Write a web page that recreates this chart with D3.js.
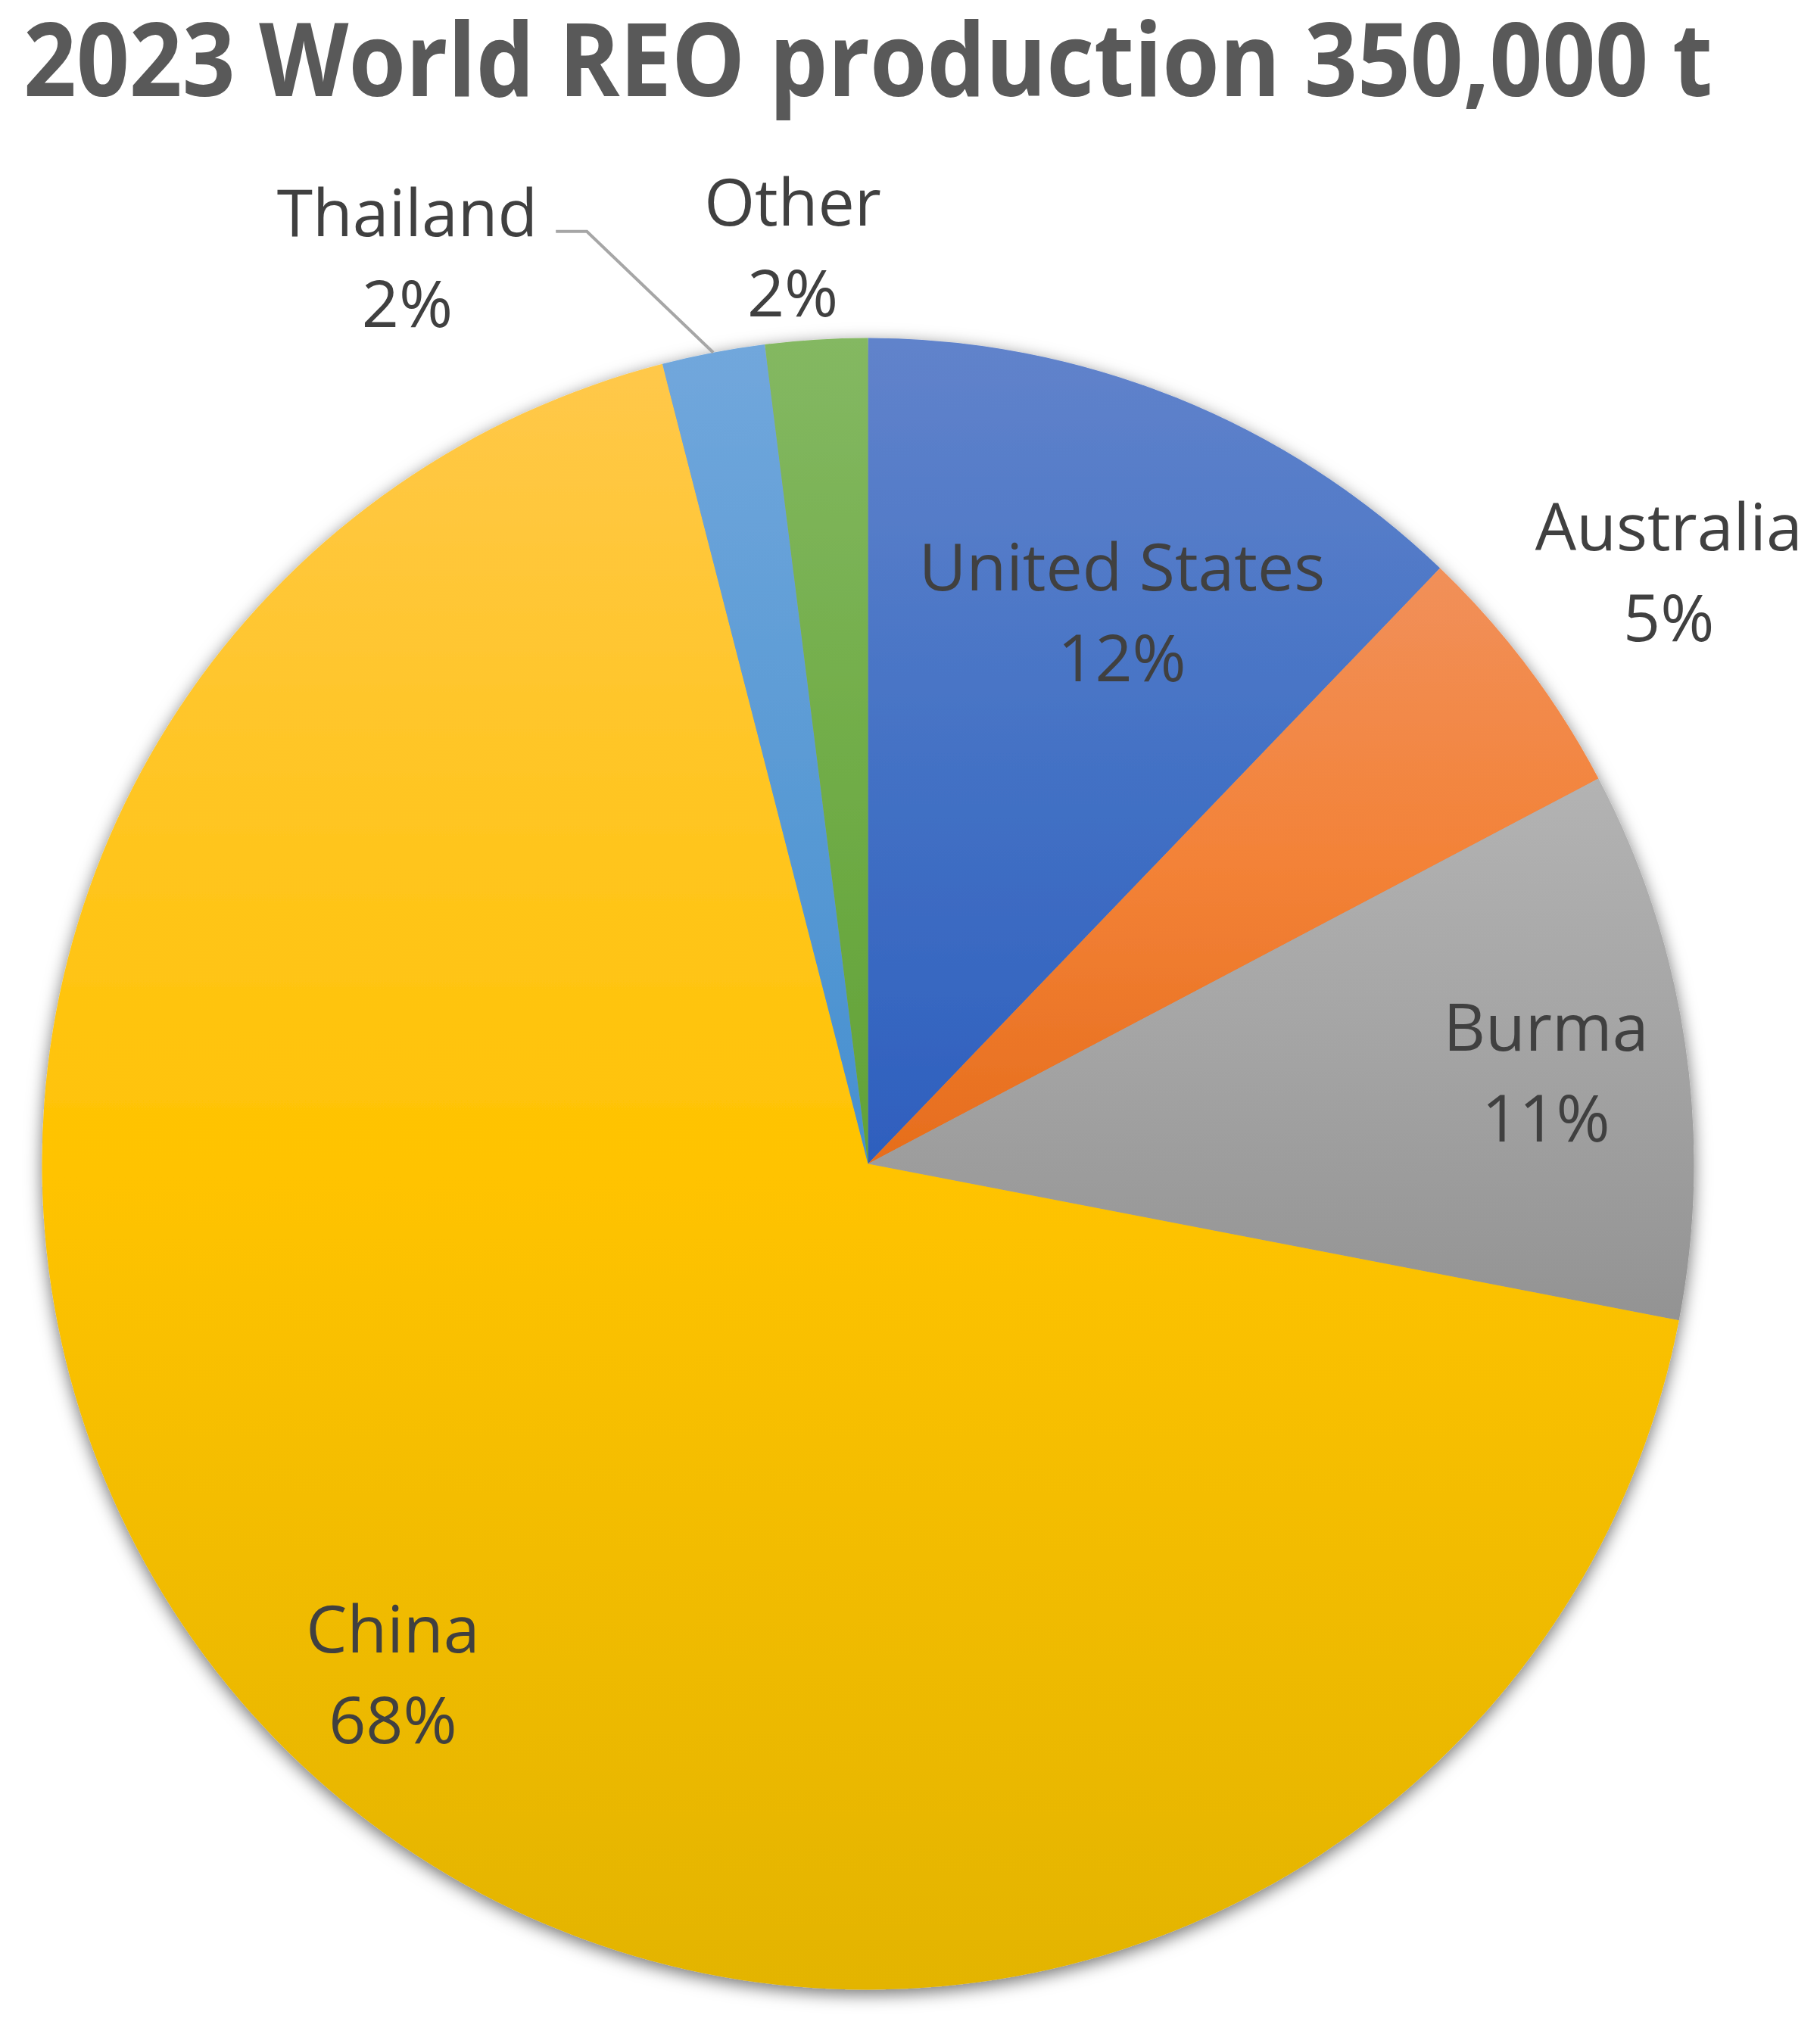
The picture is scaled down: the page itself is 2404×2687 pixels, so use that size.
<!DOCTYPE html>
<html><head><meta charset="utf-8">
<script src="https://cdn.jsdelivr.net/npm/d3@7"></script>
<style>html,body{margin:0;padding:0;background:#fff;} svg{display:block;}</style>
</head><body>
<script>
// ---- data (USGS 2023 rare-earth oxide mine production, tonnes) ----
const categories = ["United States", "Australia", "Burma", "China", "Thailand", "Other"];
const production = [43000, 18000, 38000, 240000, 7100, 7040];
const titleText = "2023 World REO production 350,000 t";

// ---- styles ----
const topColors    = ["#6183CB", "#F1905A", "#B3B3B3", "#FFC84A", "#71A7DC", "#84B862"];
const midColors    = ["#4472C5", "#F38237", "#A4A4A4", "#FFC300", "#5B9BD5", "#71AD48"];
const bottomColors = ["#2E5FBE", "#E66D1C", "#939393", "#E3B400", "#4790D0", "#62A238"];
const labelShiftDeg = [3.77, 1.63, 2.71, -1.58, -16.77, -1.23];
const labelRadius   = [774, 1297, 900, 944, 1315, 1184];
const hasLeader     = [false, false, false, false, true, false];

const W = 2404, H = 2687, cx = 1146.5, cy = 1537.5, R = 1091;
const textColor = "#404040";
const fontFam = "'Open Sans', 'Noto Sans', sans-serif";

const data = categories.map((c, i) => ({name: c, value: production[i], i}));
const total = d3.sum(production);
const pct = d3.format(".0%");

const svg = d3.select("body").append("svg").attr("width", W).attr("height", H);
const defs = svg.append("defs");

const f = defs.append("filter").attr("id", "shadow")
  .attr("x", "-10%").attr("y", "-10%").attr("width", "120%").attr("height", "120%");
f.append("feDropShadow").attr("dx", 0).attr("dy", 6).attr("stdDeviation", 11)
  .attr("flood-color", "#000").attr("flood-opacity", 0.55);

data.forEach(d => {
  const g = defs.append("linearGradient").attr("id", "grad" + d.i)
    .attr("x1", 0).attr("y1", 0).attr("x2", 0).attr("y2", 1);
  g.append("stop").attr("offset", "0%").attr("stop-color", topColors[d.i]);
  g.append("stop").attr("offset", "50%").attr("stop-color", midColors[d.i]);
  g.append("stop").attr("offset", "100%").attr("stop-color", bottomColors[d.i]);
});

// title
svg.append("text")
  .attr("x", 31).attr("y", 127)
  .attr("font-family", fontFam).attr("font-weight", 700).attr("font-size", 134)
  .attr("fill", "#595959")
  .attr("textLength", 2231).attr("lengthAdjust", "spacingAndGlyphs")
  .text(titleText);

const pie = d3.pie().sort(null).value(d => d.value);
const arcs = pie(data);
const arc = d3.arc().innerRadius(0).outerRadius(R);

const pieG = svg.append("g").attr("transform", `translate(${cx},${cy})`);
const sliceG = pieG.append("g").attr("filter", "url(#shadow)");
sliceG.selectAll("path").data(arcs).join("path")
  .attr("d", arc)
  .attr("fill", d => `url(#grad${d.data.i})`);

// labels
const labelG = pieG.append("g")
  .attr("font-family", fontFam).attr("font-size", 86).attr("fill", textColor)
  .attr("text-anchor", "middle");

arcs.forEach(a => {
  const i = a.data.i;
  const mid = (a.startAngle + a.endAngle) / 2;
  const ang = mid + labelShiftDeg[i] * Math.PI / 180;
  const lx = labelRadius[i] * Math.sin(ang);
  const ly = -labelRadius[i] * Math.cos(ang);
  const nameT = labelG.append("text").attr("x", lx).attr("y", ly - 60).text(a.data.name);
  labelG.append("text").attr("x", lx).attr("y", ly + 60).text(pct(a.data.value / total));
  if (hasLeader[i]) {
    const len = nameT.node().getComputedTextLength();
    const x0 = lx + len / 2 + 24, y0 = ly - 66;
    const ex = R * Math.sin(mid), ey = -R * Math.cos(mid);
    const x1 = x0 + 41;
    pieG.append("path")
      .attr("d", `M${x0},${y0}H${x1}L${ex},${ey}`)
      .attr("fill", "none").attr("stroke", "#A6A6A6").attr("stroke-width", 4);
  }
});
</script>
</body></html>
